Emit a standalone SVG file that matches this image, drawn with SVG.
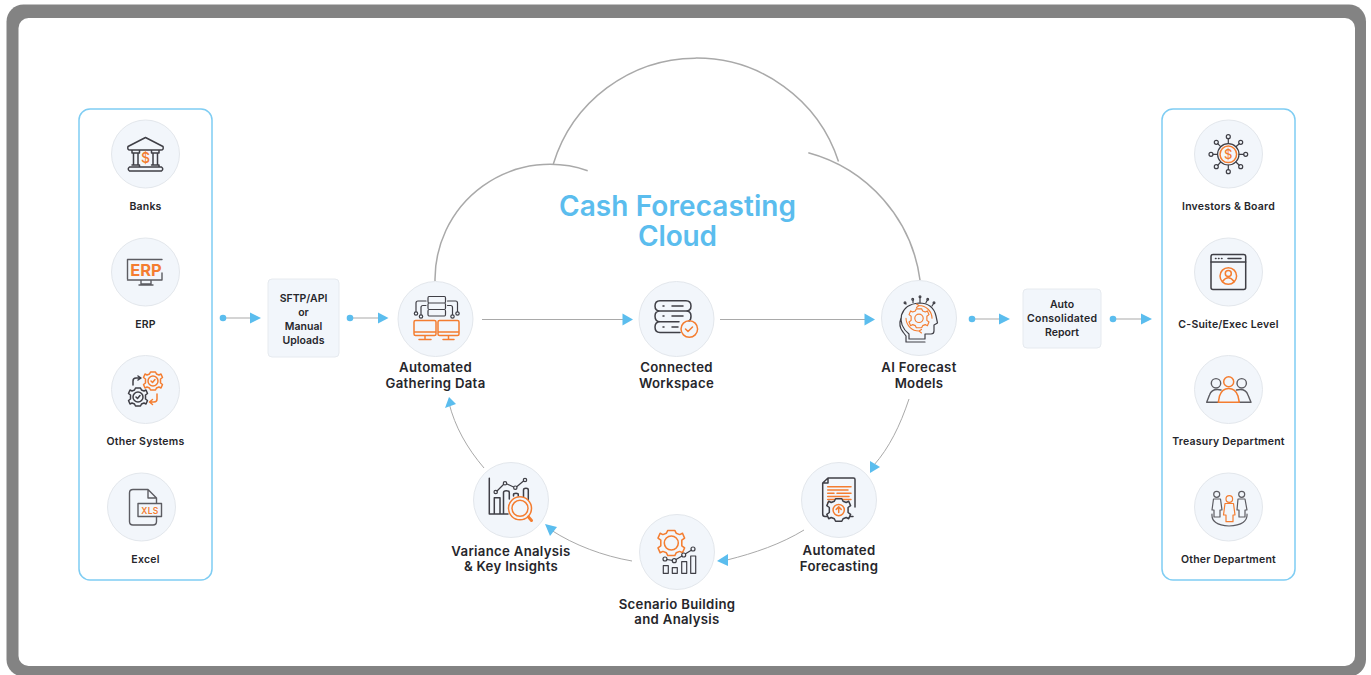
<svg xmlns="http://www.w3.org/2000/svg" width="1371" height="675" viewBox="0 0 1371 675">
<style>
text{font-family:"Inter","Noto Sans","Liberation Sans",sans-serif;fill:#26262b;text-anchor:middle}
.s{font-size:10.5px;font-weight:600;letter-spacing:.22px}
.m{font-size:13.2px;font-weight:600;letter-spacing:.3px}
.b{font-size:10.5px;font-weight:600}
.t{font-size:28px;font-weight:600;fill:#5bbdee}
.c{fill:#f2f6fb;stroke:#e3e7ec;stroke-width:1}
.p{fill:none;stroke:#3f3f46;stroke-width:1.5;stroke-linecap:round;stroke-linejoin:round}
.g{fill:none;stroke:#5c5c62;stroke-width:1.4;stroke-linecap:round;stroke-linejoin:round}
.n{fill:none;stroke:#3f3f46;stroke-width:1.2;stroke-linecap:round;stroke-linejoin:round}
.o{fill:none;stroke:#f47d30;stroke-width:1.5;stroke-linecap:round;stroke-linejoin:round}
.panel{fill:#fff;stroke:#7fcdf3;stroke-width:1.5}
.box{fill:#f2f6fb;stroke:#e6eaef;stroke-width:1}
.l{fill:none;stroke:#a9a9a9;stroke-width:1}
.cl{fill:none;stroke:#a9a9a9;stroke-width:1.5}
.d,.h{fill:#5bbdee}
</style>
<defs>
<path id="gear" d="M-2.500 -9H2.500L3.500 -7L6 -6L8 -7L9.500 -3.500L7.500 -2V2L9.500 3.500L8 7L6 6L3.500 7L2.500 9H-2.500L-3.500 7L-6 6L-8 7L-9.500 3.500L-7.500 2V-2L-9.500 -3.500L-8 -7L-6 -6L-3.500 -7Z"/>
</defs>
<rect width="1371" height="675" fill="#fff"/>
<rect x="6.500" y="4.500" width="1359.500" height="672" rx="17" fill="#838383"/>
<rect x="18.500" y="18" width="1336.500" height="648" rx="10" fill="#fff"/>

<g id="panel-left"><rect class="panel" x="79" y="109" width="133" height="471" rx="11"/></g>
<g id="panel-right"><rect class="panel" x="1162" y="109" width="133" height="471" rx="11"/></g>

<g id="cloud">
<path class="cl" d="M435 281A115 115 0 0 1 587.700 170.700"/>
<path class="cl" d="M553.300 164A149.500 149.500 0 0 1 838.500 161.500"/>
<path class="cl" d="M808.300 152.700A153 153 0 0 1 920 280"/>
</g>

<g id="connectors">
<path class="l" d="M223 318H250"/><circle class="d" cx="223" cy="318" r="3.300"/><path class="h" d="M250 312.500L261 318L250 323.500Z"/>
<path class="l" d="M350 318H378"/><circle class="d" cx="350" cy="318" r="3.300"/><path class="h" d="M378 312.500L388.500 318L378 323.500Z"/>
<path class="l" d="M482 319.500H623"/><path class="h" d="M622.500 313.500L633 319.500L622.500 325.500Z"/>
<path class="l" d="M720 319.500H866"/><path class="h" d="M864.500 313.500L875 319.500L864.500 325.500Z"/>
<path class="l" d="M972 319H1000"/><circle class="d" cx="972" cy="319" r="3.300"/><path class="h" d="M999 313.500L1010 319L999 324.500Z"/>
<path class="l" d="M1113 319H1142"/><circle class="d" cx="1113" cy="319" r="3.300"/><path class="h" d="M1141 313.500L1152 319L1141 324.500Z"/>
<path class="l" d="M909 399C900 426 889 448 874 465"/><path class="h" d="M870 461L880 467L870 473Z"/>
<path class="l" d="M804 530C781 544 755 553 727 560"/><path class="h" d="M717 561L728 554L728 566Z"/>
<path class="l" d="M632 561C603 556 574 545 551 530"/><path class="h" d="M545 524L557 527L550 536Z"/>
<path class="l" d="M484 468C467 448 455 427 449 403"/><path class="h" d="M449 397L445 408L456 404Z"/>
</g>

<g id="title"><text class="t"><tspan x="677.500" y="216" textLength="237">Cash Forecasting</tspan><tspan x="677.500" y="246" textLength="79">Cloud</tspan></text></g>

<g id="node-banks"><circle class="c" cx="145.500" cy="154" r="34"/>
<path class="p" d="M128 146.500L145.500 137.500L163 146.500Q164 150 161 150H130Q127 150 128 146.500ZM132 150V153H139.500V150M151.500 150V153H159V150M133.500 153V165M138 153V165M153 153V165M157.500 153V165M132 165H139.500V167M151.500 165H159V167M129.500 167H161.500Q164 169 161.500 171H129.500Q127 169 129.500 167Z"/>
<text x="145.500" y="162.500" style="font-size:14px;fill:#f47d30;font-weight:500">$</text>
<text class="s" x="145.500" y="210">Banks</text></g>

<g id="node-erp"><circle class="c" cx="145.500" cy="272" r="34"/>
<path class="g" d="M127.500 279V259.500H162M162 273V280H127.500M141 280V284H151V280M139 285H153"/>
<text x="146" y="276" style="font-size:16.500px;font-weight:700;fill:#f47d30">ERP</text>
<text class="s" x="145.500" y="328">ERP</text></g>

<g id="node-other"><circle class="c" cx="145.500" cy="389.500" r="34"/>
<g transform="translate(153 381)"><circle class="o" r="5"/><path class="o" d="M-2 0L-.5 1.500L2 -1.500"/><use href="#gear" class="o"/></g>
<g transform="translate(138 397)"><circle class="p" r="5"/><path class="p" d="M-2 0L-.5 1.500L2 -1.500"/><use href="#gear" class="p"/></g>
<path class="p" d="M133 385V381Q133 378 136 378H140M138 376L141 378L138 380"/>
<path class="o" d="M157 394V399Q157 402 154 402H150M152.500 399.500L149.500 402L152.500 404.500"/>
<text class="s" x="145.500" y="445">Other Systems</text></g>

<g id="node-excel"><circle class="c" cx="141.500" cy="507" r="34"/>
<path class="g" d="M148 489.500H133Q129.500 489.500 129.500 493V521.500Q129.500 525 133 525H153Q156.500 525 156.500 521.500V516.500M148 489.500L156.500 498V503M148 489.500V498H156.500"/>
<rect class="g" x="138" y="503.500" width="23.500" height="13"/>
<text x="150" y="513.500" style="font-size:8.500px;font-weight:600;fill:#f47d30;letter-spacing:.3px">XLS</text>
<text class="s" x="145.500" y="563">Excel</text></g>

<g id="node-uploads"><rect class="box" x="268" y="279" width="71" height="78" rx="4"/>
<text class="b" x="303.500" y="302">SFTP/API</text><text class="b" x="303.500" y="316">or</text><text class="b" x="303.500" y="330">Manual</text><text class="b" x="303.500" y="344">Uploads</text></g>

<g id="node-gathering"><circle class="c" cx="435.500" cy="319" r="37.500"/>
<path class="n" d="M429 296.500H444.500Q445.500 296.500 445.500 298V301.500Q445.500 303 444.500 303H429Q428 303 428 301.500V298Q428 296.500 429 296.500ZM429 303H444.500Q445.500 303 445.500 304.500V308Q445.500 309.500 444.500 309.500H429Q428 309.500 428 308V304.500Q428 303 429 303ZM429 309.500H444.500Q445.500 309.500 445.500 311V314.500Q445.500 316 444.500 316H429Q428 316 428 314.500V311Q428 309.500 429 309.500ZM426 301H418Q416 301 416 303V311.500M426 305.500H423Q421 305.500 421 307.500V314.500M447.500 301H455.500Q457.500 301 457.500 303V311.500M447.500 305.500H450.500Q452.500 305.500 452.500 307.500V314.500"/>
<circle class="n" cx="416" cy="313.500" r="1.700"/><circle class="n" cx="421" cy="316.500" r="1.700"/><circle class="n" cx="457.500" cy="313.500" r="1.700"/><circle class="n" cx="452.500" cy="316.500" r="1.700"/>
<path class="o" d="M415.500 320.500H434.500Q436 320.500 436 322V334Q436 335.500 434.500 335.500H415.500Q414 335.500 414 334V322Q414 320.500 415.500 320.500ZM414 332H436M419 339.500H431M425 335.500V339.500M439.500 320.500H457.500Q459 320.500 459 322V334Q459 335.500 457.500 335.500H439.500Q438 335.500 438 334V322Q438 320.500 439.500 320.500ZM438 332H459M443 339.500H454M448.500 335.500V339.500"/>
<text class="m" x="435.500" y="372">Automated</text><text class="m" x="435.500" y="388">Gathering Data</text></g>

<g id="node-workspace"><circle class="c" cx="676.500" cy="319" r="37.500"/>
<path class="p" d="M660 300.700H686Q691 300.700 691 306Q691 311 686 311H660Q655 311 655 306Q655 300.700 660 300.700ZM660 311H686Q691 311 691 316Q691 320 689 321M660 311Q655 311 655 316Q655 321.700 660 321.700H679M660 321.700Q655 321.700 655 327Q655 332.500 660 332.500H680M663 306H664M672 306H683M663 316H664M672 316H683M663 327H664M672 327H678"/>
<circle class="o" cx="689.300" cy="329" r="8.300"/><path class="o" d="M685.500 329L688 331.500L692.500 327"/>
<text class="m" x="676.500" y="372">Connected</text><text class="m" x="676.500" y="388">Workspace</text></g>

<g id="node-ai"><circle class="c" cx="919" cy="318" r="37.500"/>
<path class="n" d="M909 339V334Q899 326 901.500 315Q905 304 919 303Q933 303 936 316L937.500 323L934 325V331Q934 334 931 334H925V339H909M901 318Q898 326 903 332L906 336V342H925"/>
<path class="n" d="M906 304L905 303M913 302.500V300M920 302.500V297M926 302.500L927.500 300M932 306L934 303"/>
<circle class="n" cx="905" cy="302.700" r=".9"/><circle class="n" cx="912.700" cy="299.300" r=".9"/><circle class="n" cx="920" cy="296.700" r=".9"/><circle class="n" cx="927.700" cy="299.300" r=".9"/><circle class="n" cx="934" cy="302.700" r=".9"/>
<g transform="translate(919 318.300) scale(1.050)"><use href="#gear" class="o" style="stroke-width:1.100"/><circle class="o" r="4" style="stroke-width:1.100"/></g>
<path class="o" style="stroke-width:1.100" d="M919 305.500A13 13 0 0 1 932 318.300M919 331A13 13 0 0 1 906 318.300M916.500 304L919 305.500L916.500 307.500M921.500 329.500L919 331L921.500 333"/>
<text class="m" x="919" y="372">AI Forecast</text><text class="m" x="919" y="388">Models</text></g>

<g id="node-report"><rect class="box" x="1023" y="289" width="78" height="59" rx="4"/>
<text class="b" x="1062" y="308">Auto</text><text class="b" x="1062" y="322" textLength="70">Consolidated</text><text class="b" x="1062" y="336">Report</text></g>

<g id="node-forecasting"><circle class="c" cx="839" cy="500" r="37.500"/>
<path class="p" d="M828 478H853.500Q855 478 855 479.500V507M828 478L822.700 483V514Q822.700 516.500 825 516.500H827M822.700 483H828V478M850 516.500H853"/>
<path class="o" d="M827.700 486.700H851M827.700 490H848M827.700 493.300H834M837 493.300H851M827.700 496.500H849M827.700 499.500H851M827.700 502.500H830"/>
<g transform="translate(838.700 510) scale(1.250)"><use href="#gear" class="p" style="stroke-width:1.200;fill:#f2f6fb"/><circle class="o" r="4.500" style="stroke-width:1.200"/><path class="o" d="M-2 -.5L0 -2.500L2 -.5M0 -2.500V2" style="stroke-width:1.200"/></g>
<text class="m" x="839" y="555">Automated</text><text class="m" x="839" y="571">Forecasting</text></g>

<g id="node-scenario"><circle class="c" cx="677" cy="552" r="37.500"/>
<g transform="translate(671.300 543) scale(1.400)"><use href="#gear" class="o" style="stroke-width:1.100"/><circle class="o" r="5" style="stroke-width:1.100"/></g>
<path class="n" d="M663.300 565.700H668.300V573.300H663.300ZM672.300 567.700H677.300V573.300H672.300ZM681.700 561.700H686.700V573.300H681.700ZM690.700 556H695.700V573.300H690.700Z"/>
<path class="n" d="M667 559.500L672.300 560.300M676 559.500L682 556M685.500 553.800L691.300 550.200"/>
<circle class="n" cx="665" cy="559" r="2"/><circle class="n" cx="674.300" cy="560.700" r="2"/><circle class="n" cx="683.700" cy="555" r="2"/><circle class="n" cx="693" cy="549" r="2"/>
<text class="m" x="677" y="609">Scenario Building</text><text class="m" x="677" y="624">and Analysis</text></g>

<g id="node-variance"><circle class="c" cx="511" cy="500" r="37.500"/>
<path class="p" d="M489.300 478.300V514H508M494.300 514V497.700H500V514M503.500 514V492.500Q503.500 490.700 506.300 490.700Q509.300 490.700 509.300 492.500V499M513.500 496V494.500Q513.500 493.300 516 493.300Q518.300 493.300 518.300 494.500V496M523.500 499V490Q523.500 488.300 526 488.300Q528.300 488.300 528.300 490V500"/>
<path class="n" d="M497 491L503.500 484.500M507 484L513.500 487M517 486.500L523.500 481"/>
<circle class="n" cx="495.700" cy="492" r="1.700"/><circle class="n" cx="505" cy="483.300" r="1.700"/><circle class="n" cx="515.300" cy="487.700" r="1.700"/><circle class="n" cx="525" cy="480" r="1.700"/>
<circle class="o" style="fill:#f2f6fb" cx="520" cy="508.300" r="11.500"/><circle class="o" cx="520" cy="508.300" r="8"/><path class="o" style="stroke-width:3" d="M528.500 517L531.500 520.500"/>
<text class="m" x="511" y="556">Variance Analysis</text><text class="m" x="511" y="571">&amp; Key Insights</text></g>

<g id="node-investors"><circle class="c" cx="1228.500" cy="154" r="34"/>
<circle class="n" cx="1228.300" cy="154.300" r="10.700"/><circle class="o" cx="1228.300" cy="154.300" r="8.300"/>
<text x="1228.300" y="159" style="font-size:13px;font-weight:500;fill:#f47d30">$</text>
<path class="n" d="M1228.300 143.500V138.700M1228.300 165V169.700M1217.500 154.300H1213M1239 154.300H1243.700M1220.700 146.700L1217.700 143.700M1235.900 146.700L1239.300 143.700M1220.700 162L1217.700 165.300M1235.900 162L1239.300 165.300"/>
<g class="n"><circle cx="1228.300" cy="136.700" r="2"/><circle cx="1228.300" cy="171.700" r="2"/><circle cx="1211" cy="154.300" r="2"/><circle cx="1245.700" cy="154.300" r="2"/><circle cx="1216.300" cy="142.300" r="2"/><circle cx="1240.700" cy="142.300" r="2"/><circle cx="1216.300" cy="166.700" r="2"/><circle cx="1240.700" cy="166.700" r="2"/></g>
<text class="s" x="1228.500" y="210">Investors &amp; Board</text></g>

<g id="node-csuite"><circle class="c" cx="1228.500" cy="272" r="34"/>
<rect class="p" x="1211" y="254.500" width="34.700" height="35" rx="2"/><path class="p" d="M1211 262H1245.700M1215.500 258.500H1216M1218.500 258.500H1219M1221.500 258.500H1222M1228 258.500H1241"/>
<circle class="o" cx="1228.300" cy="276" r="8.300"/><circle class="o" cx="1228.300" cy="273.500" r="3"/><path class="o" d="M1222.500 281.500Q1228.300 274 1234 281.500"/>
<text class="s" x="1228.500" y="328">C-Suite/Exec Level</text></g>

<g id="node-treasury"><circle class="c" cx="1228.500" cy="389.500" r="34"/>
<circle class="g" cx="1216" cy="383.300" r="4.700"/><circle class="g" cx="1241.700" cy="383.300" r="4.700"/>
<path class="g" d="M1221 390Q1212 388 1209.500 395L1206.700 402.300H1218.300M1236.500 390Q1245.500 388 1248 395L1251 402.300H1239.300"/>
<circle class="o" cx="1228.700" cy="381.700" r="5"/><path class="o" d="M1228.700 388.500Q1222 388.500 1219.500 396L1218.300 402.300H1239.300L1238 396Q1235.500 388.500 1228.700 388.500Z"/>
<text class="s" x="1228.500" y="445">Treasury Department</text></g>

<g id="node-otherdept"><circle class="c" cx="1228.500" cy="507" r="34"/>
<circle class="g" style="stroke-width:1.200" cx="1216.700" cy="494.300" r="3"/><circle class="g" style="stroke-width:1.200" cx="1241.700" cy="494.300" r="3"/>
<path class="g" style="stroke-width:1.200" d="M1213.500 499H1220.500L1222 510H1220V517H1214V510H1212ZM1238 499H1245L1247 510H1245V517H1239V510H1237ZM1212 514Q1211 525 1229 526Q1248 525 1247 514"/>
<circle class="o" style="stroke-width:1.200" cx="1229.300" cy="499" r="3.300"/>
<path class="o" style="stroke-width:1.200;fill:#f2f6fb" d="M1225 503.500H1233.500L1235 515H1233V521.700H1226V515H1223.500Z"/>
<text class="s" x="1228.500" y="563">Other Department</text></g>
</svg>
